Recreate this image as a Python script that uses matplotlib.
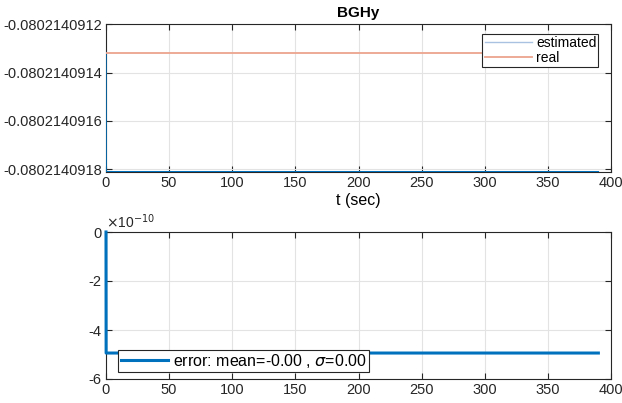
import matplotlib.pyplot as plt
import numpy as np
from matplotlib.ticker import FuncFormatter, MultipleLocator

plt.rcParams['font.family'] = ['Liberation Sans', 'DejaVu Sans']
plt.rcParams['font.size'] = 10
plt.rcParams['mathtext.fontset'] = 'dejavusans'
plt.rcParams['axes.unicode_minus'] = False

# time samples and BGHy values
t = [0, 0.1, 390]
real = [-0.080214091317, -0.080214091317, -0.080214091317]
estimated = [-0.080214091317, -0.080214091811, -0.080214091811]
error = [0.0, -4.94e-10, -4.94e-10]
y_ticks = [-0.0802140918, -0.0802140916, -0.0802140914, -0.0802140912]
err_ticks = [-6, -4, -2, 0]

fig = plt.figure(figsize=(6.22, 4.03), dpi=100)
ax1 = fig.add_axes([106/622, 1 - 172.3/403, 505/622, 148/403])
ax2 = fig.add_axes([106/622, 1 - 379/403, 505/622, 147/403])

for ax in (ax1, ax2):
    ax.grid(True, color='#e3e3e3', linewidth=0.8)
    ax.set_axisbelow(True)
    ax.tick_params(direction='in', top=True, right=True, length=4,
                   labelsize=10.5, colors='#262626', pad=3)
    for s in ax.spines.values():
        s.set_color('#262626')
        s.set_linewidth(0.8)
    ax.set_xlim(0, 400)
    ax.xaxis.set_major_locator(MultipleLocator(50))

ax1.plot(t, estimated, color='#0072BD', lw=1.0, label='estimated', zorder=3)
ax1.plot(t, real, color='#EBA48E', lw=1.3, label='real', zorder=3)
ax1.set_ylim(-0.0802140918135, -0.0802140912)
ax1.set_yticks(y_ticks)
ax1.yaxis.set_major_formatter(FuncFormatter(lambda v, p: '%.10f' % v))
ax1.set_title('BGHy', fontweight='bold', fontsize=11, pad=5)
ax1.set_xlabel('t (sec)', fontsize=11.5, labelpad=2)
leg1 = ax1.legend(loc='upper right', bbox_to_anchor=(0.975, 0.935), fontsize=10,
                  fancybox=False, framealpha=1, edgecolor='#262626',
                  handlelength=3.4, borderpad=0.15, labelspacing=0.05,
                  handletextpad=0.3, borderaxespad=0)
leg1.get_frame().set_linewidth(0.8)
leg1.get_lines()[0].set_color('#a9c2e2')

scaled = np.array(error) * 1e10
ax2.plot(t, scaled, color='#0072BD', lw=2.2, zorder=3, clip_on=False,
         label='error: mean=-0.00 , $\\sigma$=0.00')
ax2.set_ylim(-6, 0)
ax2.set_yticks(err_ticks)
ax2.text(0, 1.01, r'$\times$10$^{-10}$', transform=ax2.transAxes,
         fontsize=10, color='#262626', va='bottom')
leg2 = ax2.legend(loc='lower left', bbox_to_anchor=(0.024, 0.045), fontsize=11.5,
                  fancybox=False, framealpha=1, edgecolor='#262626',
                  handlelength=3.0, borderpad=0.15, handletextpad=0.3,
                  borderaxespad=0)
leg2.get_frame().set_linewidth(0.8)

fig.savefig('out.png', dpi=100)
